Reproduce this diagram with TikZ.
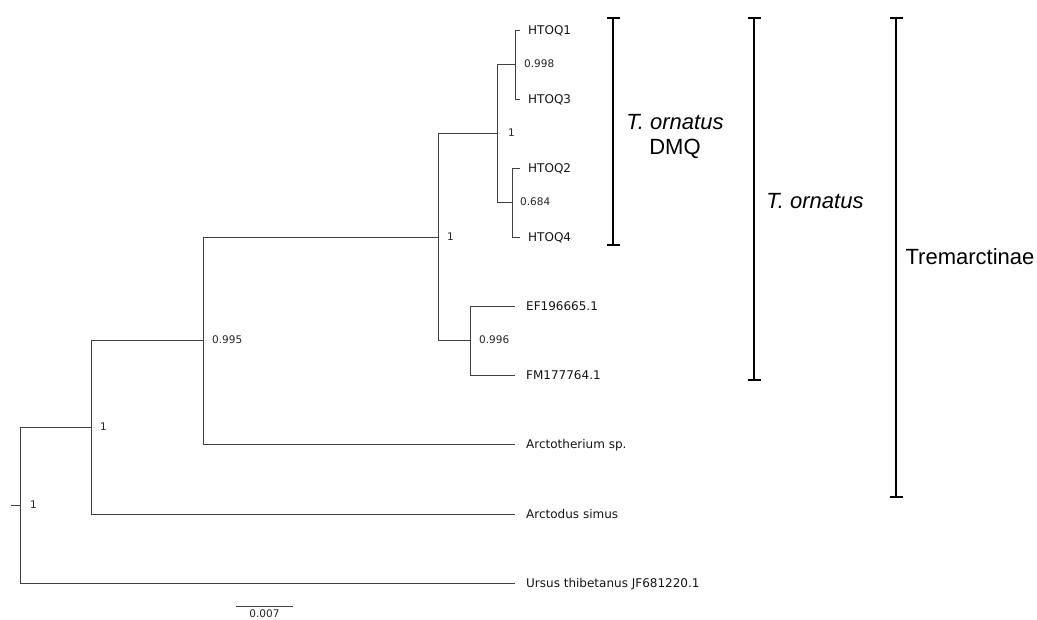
\documentclass[tikz,border=0pt]{standalone}
\usepackage{fontspec}
\setmainfont{Liberation Sans}
\newfontfamily\treefont{DejaVu Sans}
\begin{document}
\begin{tikzpicture}[x=1pt,y=-1pt,
  branch/.style={draw=black!75, line width=0.9pt},
  leaflabel/.style={font=\treefont\fontsize{12}{14}\selectfont, anchor=west, inner sep=0pt, text height=9pt, text depth=0pt, text=black!92},
  supp/.style={font=\treefont\fontsize{10.5}{12}\selectfont, anchor=west, inner sep=0pt, text height=7.6pt, text depth=0pt, text=black!85},
  clade/.style={draw=black, line width=2.6pt},
  cladelabel/.style={font=\fontsize{22}{25}\selectfont, align=center, inner sep=0pt}]
\useasboundingbox (0,0) rectangle (1037,620);
% internal nodes
\coordinate (R) at (20,505);
\coordinate (A) at (91,427);
\coordinate (B) at (203,340);
\coordinate (C) at (438,237);
\coordinate (D) at (470,340);
\coordinate (E) at (497,133);
\coordinate (F) at (515,64);
\coordinate (G) at (512,202);
\coordinate (stub) at (11,505);
% leaf ends
\coordinate (h1) at (520,30);
\coordinate (h3) at (520,99);
\coordinate (h2) at (520,168);
\coordinate (h4) at (520,237);
\coordinate (ef) at (515,306);
\coordinate (fm) at (515,375);
\coordinate (arc) at (515,444);
\coordinate (asi) at (515,514);
\coordinate (urs) at (515,583);
% branches
\draw[branch] (stub) -- (R);
\draw[branch] (R) |- (A);
\draw[branch] (R) |- (urs);
\draw[branch] (A) |- (B);
\draw[branch] (A) |- (asi);
\draw[branch] (B) |- (C);
\draw[branch] (B) |- (arc);
\draw[branch] (C) |- (E);
\draw[branch] (C) |- (D);
\draw[branch] (D) |- (ef);
\draw[branch] (D) |- (fm);
\draw[branch] (E) |- (F);
\draw[branch] (E) |- (G);
\draw[branch] (F) |- (h1);
\draw[branch] (F) |- (h3);
\draw[branch] (G) |- (h2);
\draw[branch] (G) |- (h4);
% leaf labels
\node[leaflabel] (lh1) at ([xshift=8pt]h1) {HTOQ1};
\node[leaflabel] (lh3) at ([xshift=8pt]h3) {HTOQ3};
\node[leaflabel] (lh2) at ([xshift=8pt]h2) {HTOQ2};
\node[leaflabel] (lh4) at ([xshift=8pt]h4) {HTOQ4};
\node[leaflabel] (lef) at ([xshift=11pt]ef) {EF196665.1};
\node[leaflabel] (lfm) at ([xshift=11pt]fm) {FM177764.1};
\node[leaflabel] (larc) at ([xshift=11pt]arc) {Arctotherium sp.};
\node[leaflabel] (lasi) at ([xshift=11pt]asi) {Arctodus simus};
\node[leaflabel] (lurs) at ([xshift=11pt]urs) {Ursus thibetanus JF681220.1};
% support values
\node[supp] (sR) at ([xshift=10pt]R) {1};
\node[supp] (sA) at ([xshift=9pt]A) {1};
\node[supp] (sB) at ([xshift=9pt]B) {0.995};
\node[supp] (sC) at ([xshift=9pt]C) {1};
\node[supp] (sD) at ([xshift=9pt]D) {0.996};
\node[supp] (sE) at ([xshift=11pt]E) {1};
\node[supp] (sF) at ([xshift=9pt]F) {0.998};
\node[supp] (sG) at ([xshift=8pt]G) {0.684};
% scale bar
\coordinate (sb1) at (236,606);
\coordinate (sb2) at (293,606);
\draw[branch] (sb1) -- (sb2);
\node[supp, anchor=north] (sbl) at (264.5,610) {0.007};
% clade brackets
\draw[clade] (607,18) -- (620,18) (613,18) -- (613,245) (607,245) -- (620,245);
\draw[clade] (748,18) -- (761,18) (754,18) -- (754,380) (748,380) -- (761,380);
\draw[clade] (890,18) -- (903,18) (896,18) -- (896,497) (890,497) -- (903,497);
\node[cladelabel] (dmq) at (675,137) {\textit{T. ornatus}\\DMQ};
\node[cladelabel] (orn) at (815,201) {\textit{T. ornatus}};
\node[cladelabel] (trem) at (970,257) {Tremarctinae};
\end{tikzpicture}
\end{document}
